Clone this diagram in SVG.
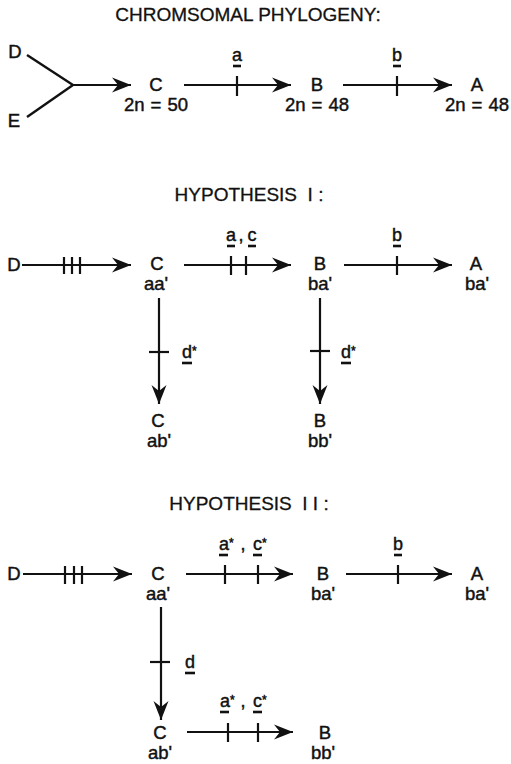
<svg xmlns="http://www.w3.org/2000/svg" width="511" height="764" viewBox="0 0 511 764">
  <style>
    text { font-family: "Liberation Sans", Arial, sans-serif; fill: #111; stroke: #111; stroke-width: 0.45; text-anchor: middle; }
    .title { font-size: 19px; stroke-width: 0.3; }
    .lbl { font-size: 18.5px; word-spacing: 1px; }
    .mut { font-size: 18px; }
    .st { font-size: 12px; }
    .ln { stroke: #111; stroke-width: 2.4; fill: none; }
    .arr { stroke: #111; stroke-width: 2.2; fill: none; marker-end: url(#head); }
    .tk { stroke: #111; stroke-width: 2.2; }
    .ul { stroke: #111; stroke-width: 2.6; }
  </style>
  <defs>
    <marker id="head" markerUnits="userSpaceOnUse" markerWidth="22" markerHeight="18" viewBox="-20 -9 22 18" refX="0" refY="0" orient="auto">
      <path d="M0,0 L-19,-7.5 L-13,0 L-19,7.5 Z" fill="#111"/>
    </marker>
  </defs>

  <!-- ===== Chromosomal phylogeny ===== -->
  <text class="title" x="248" y="21">CHROMSOMAL PHYLOGENY:</text>

  <g id="connectors">
    <!-- phylogeny -->
    <line class="ln" x1="27" y1="55" x2="73" y2="85"/>
    <line class="ln" x1="27" y1="117" x2="73" y2="85"/>
    <line class="arr" x1="72" y1="85" x2="131" y2="85"/>
    <line class="arr" x1="184" y1="85" x2="291" y2="85"/>
    <line class="tk" x1="237" y1="76" x2="237" y2="96"/>
    <line class="arr" x1="343" y1="85" x2="452" y2="85"/>
    <line class="tk" x1="397" y1="76" x2="397" y2="96"/>

    <!-- hypothesis I -->
    <line class="arr" x1="22" y1="265" x2="131" y2="265"/>
    <line class="tk" x1="64" y1="257" x2="64" y2="274"/>
    <line class="tk" x1="72" y1="257" x2="72" y2="274"/>
    <line class="tk" x1="80" y1="257" x2="80" y2="274"/>
    <line class="arr" x1="184" y1="265" x2="291" y2="265"/>
    <line class="tk" x1="231" y1="256" x2="231" y2="275"/>
    <line class="tk" x1="246" y1="256" x2="246" y2="275"/>
    <line class="arr" x1="344" y1="265" x2="452" y2="265"/>
    <line class="tk" x1="397" y1="256" x2="397" y2="275"/>
    <line class="arr" x1="159" y1="298" x2="159" y2="404"/>
    <line class="tk" x1="149" y1="352" x2="169" y2="352"/>
    <line class="arr" x1="320" y1="298" x2="320" y2="404"/>
    <line class="tk" x1="310" y1="351" x2="330" y2="351"/>

    <!-- hypothesis II -->
    <line class="arr" x1="23" y1="574" x2="132" y2="574"/>
    <line class="tk" x1="65" y1="566" x2="65" y2="584"/>
    <line class="tk" x1="74" y1="566" x2="74" y2="584"/>
    <line class="tk" x1="82" y1="566" x2="82" y2="584"/>
    <line class="arr" x1="186" y1="574" x2="293" y2="574"/>
    <line class="tk" x1="225" y1="565" x2="225" y2="584"/>
    <line class="tk" x1="258" y1="565" x2="258" y2="584"/>
    <line class="arr" x1="346" y1="574" x2="452" y2="574"/>
    <line class="tk" x1="398" y1="565" x2="398" y2="584"/>
    <line class="arr" x1="161" y1="607" x2="161" y2="720"/>
    <line class="tk" x1="150" y1="662" x2="170" y2="662"/>
    <line class="arr" x1="187" y1="732" x2="293" y2="732"/>
    <line class="tk" x1="228" y1="723" x2="228" y2="742"/>
    <line class="tk" x1="258" y1="723" x2="258" y2="742"/>
  </g>

  <!-- phylogeny nodes -->
  <g id="p-D"><text class="lbl" x="15" y="58">D</text></g>
  <g id="p-E"><text class="lbl" x="14" y="127">E</text></g>
  <g id="p-C"><text class="lbl" x="156" y="91">C</text><text class="lbl" x="156" y="111">2n = 50</text></g>
  <g id="p-B"><text class="lbl" x="317" y="91">B</text><text class="lbl" x="317" y="111">2n = 48</text></g>
  <g id="p-A"><text class="lbl" x="477" y="91">A</text><text class="lbl" x="477" y="111">2n = 48</text></g>
  <g id="p-mut-a"><text class="mut" x="237" y="61">a</text><line class="ul" x1="233" y1="66" x2="241" y2="66"/></g>
  <g id="p-mut-b"><text class="mut" x="397" y="61">b</text><line class="ul" x1="393" y1="66" x2="401" y2="66"/></g>

  <!-- ===== Hypothesis I ===== -->
  <text class="title" x="249" y="201" xml:space="preserve">HYPOTHESIS  I :</text>
  <g id="h1-D"><text class="lbl" x="14" y="271">D</text></g>
  <g id="h1-C"><text class="lbl" x="157" y="270">C</text><text class="lbl" x="156" y="290">aa'</text></g>
  <g id="h1-B"><text class="lbl" x="320" y="270">B</text><text class="lbl" x="320" y="290">ba'</text></g>
  <g id="h1-A"><text class="lbl" x="476" y="270">A</text><text class="lbl" x="477" y="290">ba'</text></g>
  <g id="h1-C2"><text class="lbl" x="158" y="427">C</text><text class="lbl" x="159" y="447">ab'</text></g>
  <g id="h1-B2"><text class="lbl" x="320" y="427">B</text><text class="lbl" x="320" y="447">bb'</text></g>
  <g id="h1-mut-ac">
    <text class="mut" x="231" y="241">a</text><text class="mut" x="241" y="241">,</text><text class="mut" x="252" y="241">c</text>
    <line class="ul" x1="227" y1="246" x2="235" y2="246"/><line class="ul" x1="248" y1="246" x2="256" y2="246"/>
  </g>
  <g id="h1-mut-b"><text class="mut" x="397" y="241">b</text><line class="ul" x1="393" y1="246" x2="401" y2="246"/></g>
  <g id="h1-mut-d1"><text class="mut" x="182" y="358" style="text-anchor:start">d<tspan class="st" dy="-3">*</tspan></text><line class="ul" x1="182" y1="363" x2="192" y2="363"/></g>
  <g id="h1-mut-d2"><text class="mut" x="341" y="358" style="text-anchor:start">d<tspan class="st" dy="-3">*</tspan></text><line class="ul" x1="341" y1="363" x2="351" y2="363"/></g>

  <!-- ===== Hypothesis II ===== -->
  <text class="title" x="249" y="510" xml:space="preserve">HYPOTHESIS  I I :</text>
  <g id="h2-D"><text class="lbl" x="14" y="580">D</text></g>
  <g id="h2-C"><text class="lbl" x="158" y="580">C</text><text class="lbl" x="158" y="600">aa'</text></g>
  <g id="h2-B"><text class="lbl" x="323" y="580">B</text><text class="lbl" x="323" y="600">ba'</text></g>
  <g id="h2-A"><text class="lbl" x="477" y="580">A</text><text class="lbl" x="477" y="600">ba'</text></g>
  <g id="h2-C2"><text class="lbl" x="160" y="739">C</text><text class="lbl" x="160" y="759">ab'</text></g>
  <g id="h2-B2"><text class="lbl" x="325" y="739">B</text><text class="lbl" x="323" y="759">bb'</text></g>
  <g id="h2-mut-ac">
    <text class="mut" x="219" y="550" style="text-anchor:start">a<tspan class="st" dy="-3">*</tspan></text>
    <text class="mut" x="243" y="550">,</text>
    <text class="mut" x="253" y="550" style="text-anchor:start">c<tspan class="st" dy="-3">*</tspan></text>
    <line class="ul" x1="219" y1="555" x2="228" y2="555"/><line class="ul" x1="253" y1="555" x2="262" y2="555"/>
  </g>
  <g id="h2-mut-b"><text class="mut" x="398" y="550">b</text><line class="ul" x1="394" y1="555" x2="402" y2="555"/></g>
  <g id="h2-mut-d"><text class="mut" x="185" y="668" style="text-anchor:start">d</text><line class="ul" x1="185" y1="673" x2="195" y2="673"/></g>
  <g id="h2-mut-ac2">
    <text class="mut" x="220" y="707" style="text-anchor:start">a<tspan class="st" dy="-3">*</tspan></text>
    <text class="mut" x="243" y="707">,</text>
    <text class="mut" x="253" y="707" style="text-anchor:start">c<tspan class="st" dy="-3">*</tspan></text>
    <line class="ul" x1="220" y1="712" x2="229" y2="712"/><line class="ul" x1="253" y1="712" x2="262" y2="712"/>
  </g>
</svg>
